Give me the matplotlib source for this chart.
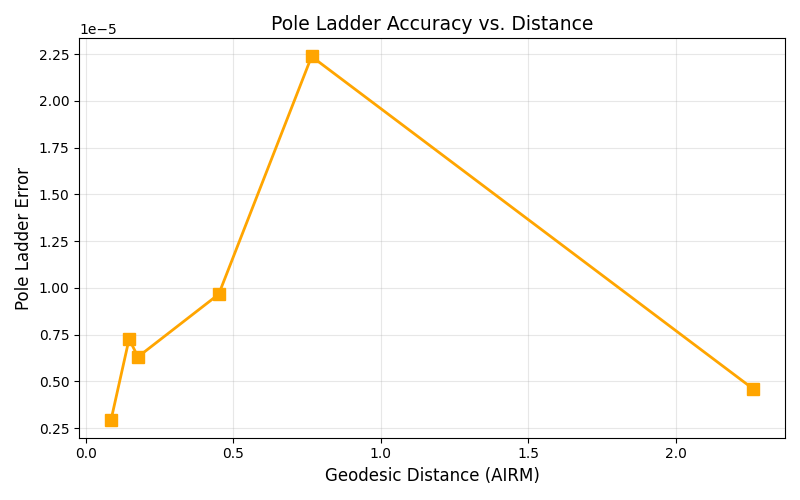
import matplotlib
matplotlib.use("Agg")
import matplotlib.pyplot as plt

distances = [0.085, 0.146, 0.176, 0.450, 0.765, 2.262]
errors = [0.296e-5, 0.727e-5, 0.631e-5, 0.966e-5, 2.237e-5, 0.461e-5]

fig, ax = plt.subplots(figsize=(8, 5), dpi=100)
ax.plot(distances, errors, color="orange", marker="s", markersize=9,
        linewidth=2)
ax.set_title("Pole Ladder Accuracy vs. Distance", fontsize=13.5)
ax.set_xlabel("Geodesic Distance (AIRM)", fontsize=12)
ax.set_ylabel("Pole Ladder Error", fontsize=12)
ax.grid(True, alpha=0.3)
fig.tight_layout()
fig.savefig("out.png")
